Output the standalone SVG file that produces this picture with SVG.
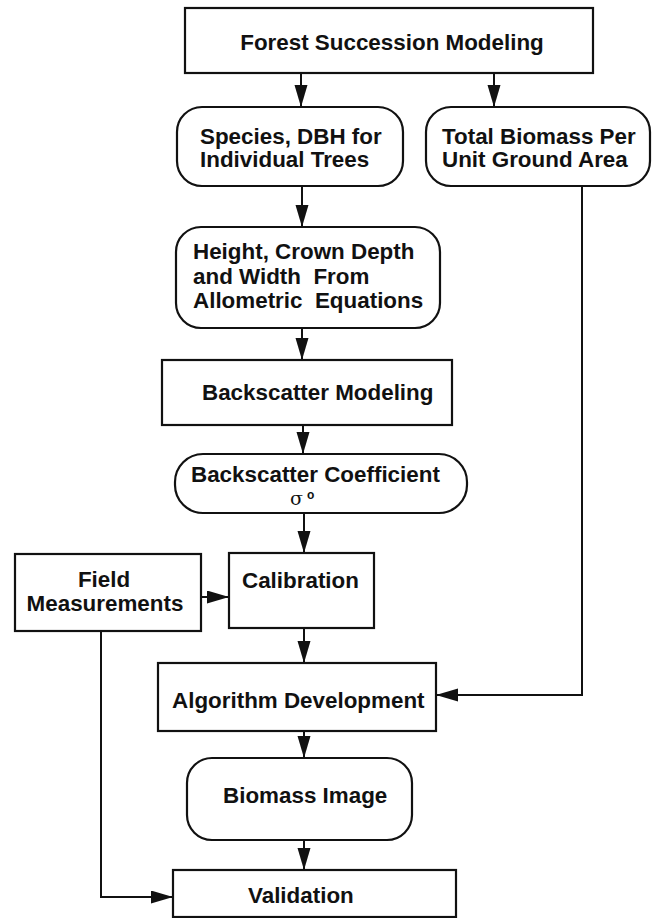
<svg xmlns="http://www.w3.org/2000/svg" width="659" height="918" viewBox="0 0 659 918">
<style>
.box{fill:#fff;stroke:#111;stroke-width:2.2}
.t{font-family:"Liberation Sans",Arial,sans-serif;font-weight:bold;font-size:22.4px;fill:#111;white-space:pre}
.c{text-anchor:middle}
.ln{fill:none;stroke:#111;stroke-width:2}
</style>
<defs>
<marker id="ah" markerUnits="userSpaceOnUse" markerWidth="24" markerHeight="14" refX="22" refY="6.5" orient="auto">
<polygon points="0,0 22,6.5 0,13" fill="#111"/>
</marker>
</defs>
<rect width="659" height="918" fill="#fff"/>
<g id="connectors">
<line class="ln" x1="301" y1="73" x2="301" y2="107" marker-end="url(#ah)"/>
<line class="ln" x1="494" y1="73" x2="494" y2="107" marker-end="url(#ah)"/>
<line class="ln" x1="302" y1="186" x2="302" y2="227" marker-end="url(#ah)"/>
<line class="ln" x1="302" y1="328" x2="302" y2="360" marker-end="url(#ah)"/>
<line class="ln" x1="303" y1="425" x2="303" y2="454" marker-end="url(#ah)"/>
<line class="ln" x1="304" y1="513" x2="304" y2="553" marker-end="url(#ah)"/>
<line class="ln" x1="201" y1="597" x2="229" y2="597" marker-end="url(#ah)"/>
<line class="ln" x1="304" y1="628" x2="304" y2="663" marker-end="url(#ah)"/>
<path class="ln" d="M582,186 V695 H436" marker-end="url(#ah)"/>
<line class="ln" x1="304" y1="731" x2="304" y2="758" marker-end="url(#ah)"/>
<line class="ln" x1="304" y1="840" x2="304" y2="870" marker-end="url(#ah)"/>
<path class="ln" d="M101,631 V897 H173" marker-end="url(#ah)"/>
</g>
<g id="forest">
<rect class="box" x="185" y="8" width="408" height="65"/>
<text class="t c" x="392" y="50">Forest Succession Modeling</text>
</g>
<g id="species">
<rect class="box" x="177" y="107" width="226" height="79" rx="25"/>
<text class="t" x="200" y="144">Species, DBH for</text>
<text class="t" x="200" y="167">Individual Trees</text>
</g>
<g id="total">
<rect class="box" x="426" y="107" width="224" height="79" rx="25"/>
<text class="t" x="442" y="144">Total Biomass Per</text>
<text class="t" x="442" y="167">Unit Ground Area</text>
</g>
<g id="height">
<rect class="box" x="176" y="227" width="264" height="101" rx="25"/>
<text class="t" x="193" y="259">Height, Crown Depth</text>
<text class="t" x="193" y="284">and Width  From</text>
<text class="t" x="193" y="308">Allometric  Equations</text>
</g>
<g id="bsmodel">
<rect class="box" x="162" y="360" width="290" height="65"/>
<text class="t" x="202" y="400">Backscatter Modeling</text>
</g>
<g id="coef">
<rect class="box" x="175" y="454" width="292" height="59" rx="28"/>
<text class="t" x="191" y="482">Backscatter Coefficient</text>
<text x="290" y="505" style="font-family:'DejaVu Serif','Liberation Serif',serif;font-size:19px;fill:#111">σ<tspan dx="4" dy="-6" style="font-family:'Liberation Sans',Arial,sans-serif;font-weight:bold;font-size:12px">o</tspan></text>
</g>
<g id="field">
<rect class="box" x="15" y="554" width="186" height="77"/>
<text class="t c" x="104" y="587">Field</text>
<text class="t c" x="105" y="611">Measurements</text>
</g>
<g id="calibration">
<rect class="box" x="229" y="553" width="145" height="75"/>
<text class="t" x="242" y="588">Calibration</text>
</g>
<g id="algorithm">
<rect class="box" x="158" y="663" width="278" height="68"/>
<text class="t" x="172" y="708">Algorithm Development</text>
</g>
<g id="biomass">
<rect class="box" x="187" y="758" width="225" height="82" rx="25"/>
<text class="t" x="223" y="803">Biomass Image</text>
</g>
<g id="validation">
<rect class="box" x="173" y="870" width="283" height="47"/>
<text class="t" x="248" y="903">Validation</text>
</g>
</svg>
